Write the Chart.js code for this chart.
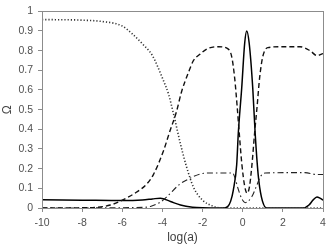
<!DOCTYPE html>
<html>
<head>
<meta charset="utf-8">
<script src="https://cdn.jsdelivr.net/npm/chart.js@4"></script>
<style>
  html, body { margin: 0; padding: 0; background: #fff; }
  #wrap { width: 332px; height: 248px; }
</style>
</head>
<body>
<div id="wrap"><canvas id="chart"></canvas></div>
<script>
// x ticks and y ticks
const xTicks = [-10, -8, -6, -4, -2, 0, 2, 4];
const yTicks = [0, 0.1, 0.2, 0.3, 0.4, 0.5, 0.6, 0.7, 0.8, 0.9, 1];

// dotted curve
const dotX = [-10, -8, -7, -6, -5.5, -5, -4.5, -4, -3.7, -3.45, -3.1, -2.8, -2.45, -2.0, -1.5, -1.1, 0, 4];
const dotY = [0.958, 0.955, 0.948, 0.925, 0.885, 0.835, 0.775, 0.66, 0.58, 0.48, 0.325, 0.21, 0.105, 0.04, 0.01, 0, 0, 0];

// dashed curve
const dashX = [-10, -7.5, -6.6, -6, -5.3, -4.8, -4.45, -3.95, -3.63, -3.3, -3.05, -2.7, -2.45, -2.15, -1.75, -1.2, -0.75, -0.55, -0.4, -0.28, -0.18, -0.04, 0.1, 0.22, 0.34, 0.46, 0.6, 0.72, 0.84, 1.0, 1.25, 1.85, 2.85, 3.35, 3.7, 4];
const dashY = [0, 0.002, 0.015, 0.04, 0.08, 0.12, 0.17, 0.29, 0.39, 0.49, 0.59, 0.69, 0.75, 0.78, 0.81, 0.82, 0.81, 0.77, 0.66, 0.52, 0.39, 0.22, 0.11, 0.075, 0.11, 0.22, 0.39, 0.52, 0.66, 0.77, 0.815, 0.82, 0.82, 0.8, 0.775, 0.785];

// solid curve
const solidX = [-10, -8, -6, -5, -4.5, -4.1, -3.6, -3.1, -2.5, -2, -1, -0.75, -0.6, -0.47, -0.3, -0.22, -0.05, 0.1, 0.2, 0.32, 0.5, 0.62, 0.77, 0.93, 1.2, 3, 3.3, 3.5, 3.7, 3.85, 4];
const solidY = [0.042, 0.04, 0.038, 0.041, 0.046, 0.05, 0.033, 0.015, 0.004, 0.001, 0, 0.007, 0.035, 0.09, 0.22, 0.38, 0.61, 0.84, 0.9, 0.84, 0.61, 0.38, 0.17, 0.057, 0, 0, 0.015, 0.04, 0.056, 0.05, 0.04];

// dash-dot curve
const dashDotX = [-10, -5, -4.6, -4.1, -3.8, -3.15, -2.65, -2.15, -1.65, -0.5, -0.4, -0.23, -0.05, 0.12, 0.45, 0.7, 0.87, 1.12, 3.1, 3.7, 4];
const dashDotY = [0, 0.003, 0.008, 0.03, 0.055, 0.12, 0.15, 0.172, 0.178, 0.178, 0.157, 0.098, 0.048, 0.027, 0.057, 0.115, 0.157, 0.178, 0.18, 0.17, 0.17];

function pts(xs, ys) {
    return xs.map((x, i) => ({ x: x, y: ys[i] }));
}

function line(xs, ys, dash, width, color) {
    return {
        data: pts(xs, ys),
        borderColor: color,
        borderWidth: width,
        borderDash: dash,
        pointRadius: 0,
        fill: false,
        cubicInterpolationMode: 'monotone'
    };
}

// box round the plot area
const frame = {
    id: 'frame',
    afterDraw(chart) {
        const a = chart.chartArea;
        const c = chart.ctx;
        c.save();
        c.strokeStyle = '#8c8c8c';
        c.lineWidth = 1;
        c.strokeRect(Math.round(a.left) + 0.5, Math.round(a.top) + 0.5,
            Math.round(a.right - a.left), Math.round(a.bottom - a.top));
        c.restore();
    }
};

const tickFont = { family: 'Liberation Sans', size: 10.5 };

new Chart(document.getElementById('chart'), {
    type: 'line',
    data: {
        datasets: [
            line(dotX, dotY, [1.2, 2], 1.6, '#333'),
            line(dashX, dashY, [5, 3], 1.4, '#111'),
            line(dashDotX, dashDotY, [6, 3, 1.5, 3], 1.1, '#222'),
            line(solidX, solidY, [], 1.5, '#000')
        ]
    },
    options: {
        responsive: true,
        maintainAspectRatio: false,
        animation: false,
        layout: { padding: { top: 6, right: 9, left: 0, bottom: 0 } },
        plugins: { legend: { display: false }, tooltip: { enabled: false } },
        scales: {
            x: {
                type: 'linear',
                min: -10,
                max: 4,
                afterBuildTicks: (s) => { s.ticks = xTicks.map(v => ({ value: v })); },
                afterFit: (s) => { s.height = 40; },
                ticks: { font: tickFont, color: '#505050', padding: 5, callback: (v) => String(v) },
                grid: { drawOnChartArea: false, drawTicks: true, tickLength: 4, color: '#8c8c8c' },
                border: { color: '#8c8c8c' },
                title: { display: true, text: 'log(a)', font: { family: 'Liberation Sans', size: 12 }, color: '#404040', padding: { top: 0, bottom: 3 } }
            },
            y: {
                min: 0,
                max: 1,
                afterBuildTicks: (s) => { s.ticks = yTicks.map(v => ({ value: v })); },
                afterFit: (s) => { s.width = 42; },
                ticks: { font: tickFont, color: '#505050', padding: 5, callback: (v) => String(v) },
                grid: { drawOnChartArea: false, drawTicks: true, tickLength: 4, color: '#8c8c8c' },
                border: { color: '#8c8c8c' },
                title: { display: true, text: 'Ω', font: { family: 'Liberation Sans', size: 12 }, color: '#404040', padding: { top: 0, bottom: 0 } }
            }
        }
    },
    plugins: [frame]
});
</script>
</body>
</html>
